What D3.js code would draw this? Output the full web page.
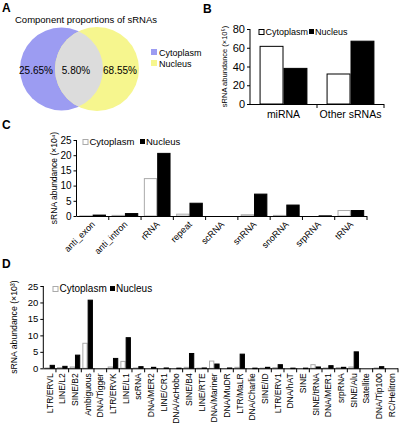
<!DOCTYPE html>
<html><head><meta charset="utf-8">
<script src="https://cdn.jsdelivr.net/npm/d3@7/dist/d3.min.js"></script>
<style>body{margin:0;background:#fff}svg{display:block;font-family:"Liberation Sans",Arial,sans-serif}</style>
</head><body>
<script>
// ---- Data ----
const vennLabels = ["Cytoplasm", "Nucleus"];
const vennValues = ["25.65%", "5.80%", "68.55%"];

const bCats = ["miRNA", "Other sRNAs"];
const bCyto = [61.5, 32];
const bNuc = [38, 67];
const bTicks = [0, 20, 40, 60, 80];

const cCats = ["anti_exon", "anti_intron", "rRNA", "repeat", "scRNA", "snRNA", "snoRNA", "srpRNA", "tRNA"];
const cCyto = [0.05, 0.2, 12.3, 0.6, 0, 0.4, 0.2, 0, 1.8];
const cNuc = [0.3, 0.8, 20.6, 4.2, 0, 7.2, 3.6, 0.05, 1.8];
const cTicks = [0, 5, 10, 15, 20, 25];

const dCats = ["LTR/ERVL", "LINE/L2", "SINE/B2", "Ambiguous", "DNA/Tigger", "LTR/ERVK", "LINE/L1", "scRNA", "DNA/MER2", "LINE/CR1", "DNA/AcHobo", "SINE/B4", "LINE/RTE", "DNA/Mariner", "DNA/MuDR", "LTR/MaLR", "DNA/Charlie", "SINE/ID", "LTR/ERV1", "DNA/hAT", "SINE", "SINE/tRNA", "DNA/MER1", "srpRNA", "SINE/Alu", "Satellite", "DNA/Tip100", "RC/Helitron"];
const dCyto = [0.1, 0.2, 0.4, 7.6, 0, 0.4, 2.1, 0.1, 0, 0, 0, 0.3, 0.05, 2.2, 0, 0.3, 0, 0.05, 0.2, 0, 0, 1.1, 0.1, 0.2, 0.4, 0, 0.1, 0];
const dNuc = [0.9, 0.6, 4.0, 20.7, 0, 3.0, 9.3, 0.5, 0.3, 0.1, 0.05, 4.5, 0.1, 1.3, 0.1, 4.3, 0.05, 0.3, 1.1, 0.05, 0.05, 0.4, 0.8, 0.3, 5.0, 0, 0.5, 0];
const dTicks = [0, 5, 10, 15, 20, 25];

const seriesNames = ["Cytoplasm", "Nucleus"];

// ---- Drawing ----
const svg = d3.select("body").append("svg").attr("width", 400).attr("height", 426);

function panelLabel(t, x, y) {
  svg.append("text").attr("x", x).attr("y", y).text(t)
    .attr("font-size", 12).attr("font-weight", "bold").attr("fill", "#000");
}

// Panel A: Venn
panelLabel("A", 2, 12);
const gA = svg.append("g");
gA.append("text").attr("x", 15).attr("y", 23).text("Component proportions of sRNAs").attr("font-size", 9.5);
const cL = {x: 61.5, y: 69, r: 41.5}, cR = {x: 97, y: 69, r: 42};
gA.append("circle").attr("cx", cL.x).attr("cy", cL.y).attr("r", cL.r).attr("fill", "#9c9cf2");
gA.append("circle").attr("cx", cR.x).attr("cy", cR.y).attr("r", cR.r).attr("fill", "#f6f68e");
const defs = svg.append("defs");
defs.append("clipPath").attr("id", "clipL").append("circle").attr("cx", cL.x).attr("cy", cL.y).attr("r", cL.r);
gA.append("circle").attr("cx", cR.x).attr("cy", cR.y).attr("r", cR.r).attr("fill", "#dcdcdc").attr("clip-path", "url(#clipL)");
const vx = [36, 76, 120];
vennValues.forEach((v, i) => {
  gA.append("text").attr("x", vx[i]).attr("y", 73.5).attr("text-anchor", "middle").attr("font-size", 10).text(v);
});
const vennColors = ["#9c9cf2", "#f6f68e"];
vennLabels.forEach((l, i) => {
  gA.append("rect").attr("x", 151).attr("y", 49 + i * 11).attr("width", 6).attr("height", 6).attr("fill", vennColors[i]);
  gA.append("text").attr("x", 159).attr("y", 55.5 + i * 11).attr("font-size", 9).text(l);
});

// Generic bar chart
function barChart(o) {
  const g = svg.append("g");
  const x = d3.scaleBand().domain(o.cats).range([o.x0, o.x1]).paddingInner(0).paddingOuter(0);
  const sub = d3.scaleBand().domain(seriesNames).range([0, x.bandwidth()]).paddingInner(0).paddingOuter(o.pad);
  const y = d3.scaleLinear().domain([0, o.max]).range([o.yb, o.yt]);
  const data = o.cats.map((c, i) => ({c, v: [o.cyto[i], o.nuc[i]]}));
  data.forEach(d => {
    seriesNames.forEach((s, j) => {
      const v = d.v[j];
      if (v <= 0) return;
      g.append("rect")
        .attr("x", x(d.c) + sub(s) + 0.5).attr("width", sub.bandwidth() - 1)
        .attr("y", y(v)).attr("height", Math.max(0.5, y(0) - y(v)))
        .attr("fill", j === 0 ? "#fff" : "#000")
        .attr("stroke", j === 0 ? o.cytoStroke : "#000").attr("stroke-width", 1);
    });
  });
  const ya = d3.axisLeft(y).tickValues(o.ticks).tickSize(3).tickPadding(2);
  const yg = g.append("g").attr("transform", `translate(${o.x0},0)`).call(ya);
  yg.selectAll("text").attr("font-size", o.tickFont).attr("fill", "#000").attr("font-family", "Liberation Sans, Arial, sans-serif");
  yg.selectAll("line,path").attr("stroke", "#000");
  yg.select("path").attr("d", `M0,${o.yb}V${o.yt}`);
  const xg = g.append("g");
  xg.append("line").attr("x1", o.x0).attr("x2", o.x1).attr("y1", o.yb + 0.5).attr("y2", o.yb + 0.5).attr("stroke", "#000");
  o.cats.forEach((c, i) => {
    const bx = x(c) + x.bandwidth();
    xg.append("line").attr("x1", bx).attr("x2", bx).attr("y1", o.yb).attr("y2", o.yb + 4).attr("stroke", "#000");
  });
  o.cats.forEach(c => {
    const cx = x(c) + x.bandwidth() / 2;
    const t = xg.append("text").text(c).attr("font-size", o.catFont).attr("fill", "#000");
    if (o.rot === 0) {
      t.attr("x", cx).attr("y", o.yb + 14).attr("text-anchor", "middle");
    } else if (o.rot === -45) {
      t.attr("text-anchor", "end").attr("transform", `translate(${cx + 3},${o.yb + 9}) rotate(-45)`);
    } else {
      t.attr("text-anchor", "end").attr("transform", `translate(${cx + 3},${o.yb + 5}) rotate(-90)`);
    }
  });
  g.append("text").attr("transform", `translate(${o.ylx},${(o.yb + o.yt) / 2}) rotate(-90)`)
    .attr("text-anchor", "middle").attr("font-size", o.ylFont).text("sRNA abundance (×10" + o.sup + ")");
  const L = o.leg;
  g.append("rect").attr("x", L.x + 0.5).attr("y", L.y - 5.5).attr("width", 5).attr("height", 5).attr("fill", "#fff").attr("stroke", o.cytoStroke);
  g.append("text").attr("x", L.x + 7).attr("y", L.y).attr("font-size", L.f).text(seriesNames[0]);
  g.append("rect").attr("x", L.x2).attr("y", L.y - 6).attr("width", 5).attr("height", 5).attr("fill", "#000");
  g.append("text").attr("x", L.x2 + 6).attr("y", L.y).attr("font-size", L.f).text(seriesNames[1]);
}

panelLabel("B", 203, 13);
barChart({cats: bCats, cyto: bCyto, nuc: bNuc, ticks: bTicks, max: 80, x0: 250, x1: 384, yb: 104, yt: 29, pad: 0.4,
  cytoStroke: "#000", tickFont: 11, catFont: 10.5, rot: 0, ylx: 227, ylFont: 7.5, sup: "⁵",
  leg: {x: 258.5, y: 35, x2: 309, f: 9}});

panelLabel("C", 2, 129);
barChart({cats: cCats, cyto: cCyto, nuc: cNuc, ticks: cTicks, max: 25, x0: 76.5, x1: 367, yb: 216, yt: 140, pad: 0.21,
  cytoStroke: "#aaa", tickFont: 10, catFont: 9, rot: -45, ylx: 57, ylFont: 8.5, sup: "⁴",
  leg: {x: 82.5, y: 145, x2: 140, f: 9.5}});

panelLabel("D", 2, 268);
barChart({cats: dCats, cyto: dCyto, nuc: dNuc, ticks: dTicks, max: 25, x0: 43.3, x1: 398, yb: 368.3, yt: 286, pad: 0.2,
  cytoStroke: "#aaa", tickFont: 9.5, catFont: 8.5, rot: -90, ylx: 17, ylFont: 8.7, sup: "³",
  leg: {x: 52.5, y: 292, x2: 110, f: 10}});
</script>
</body></html>
